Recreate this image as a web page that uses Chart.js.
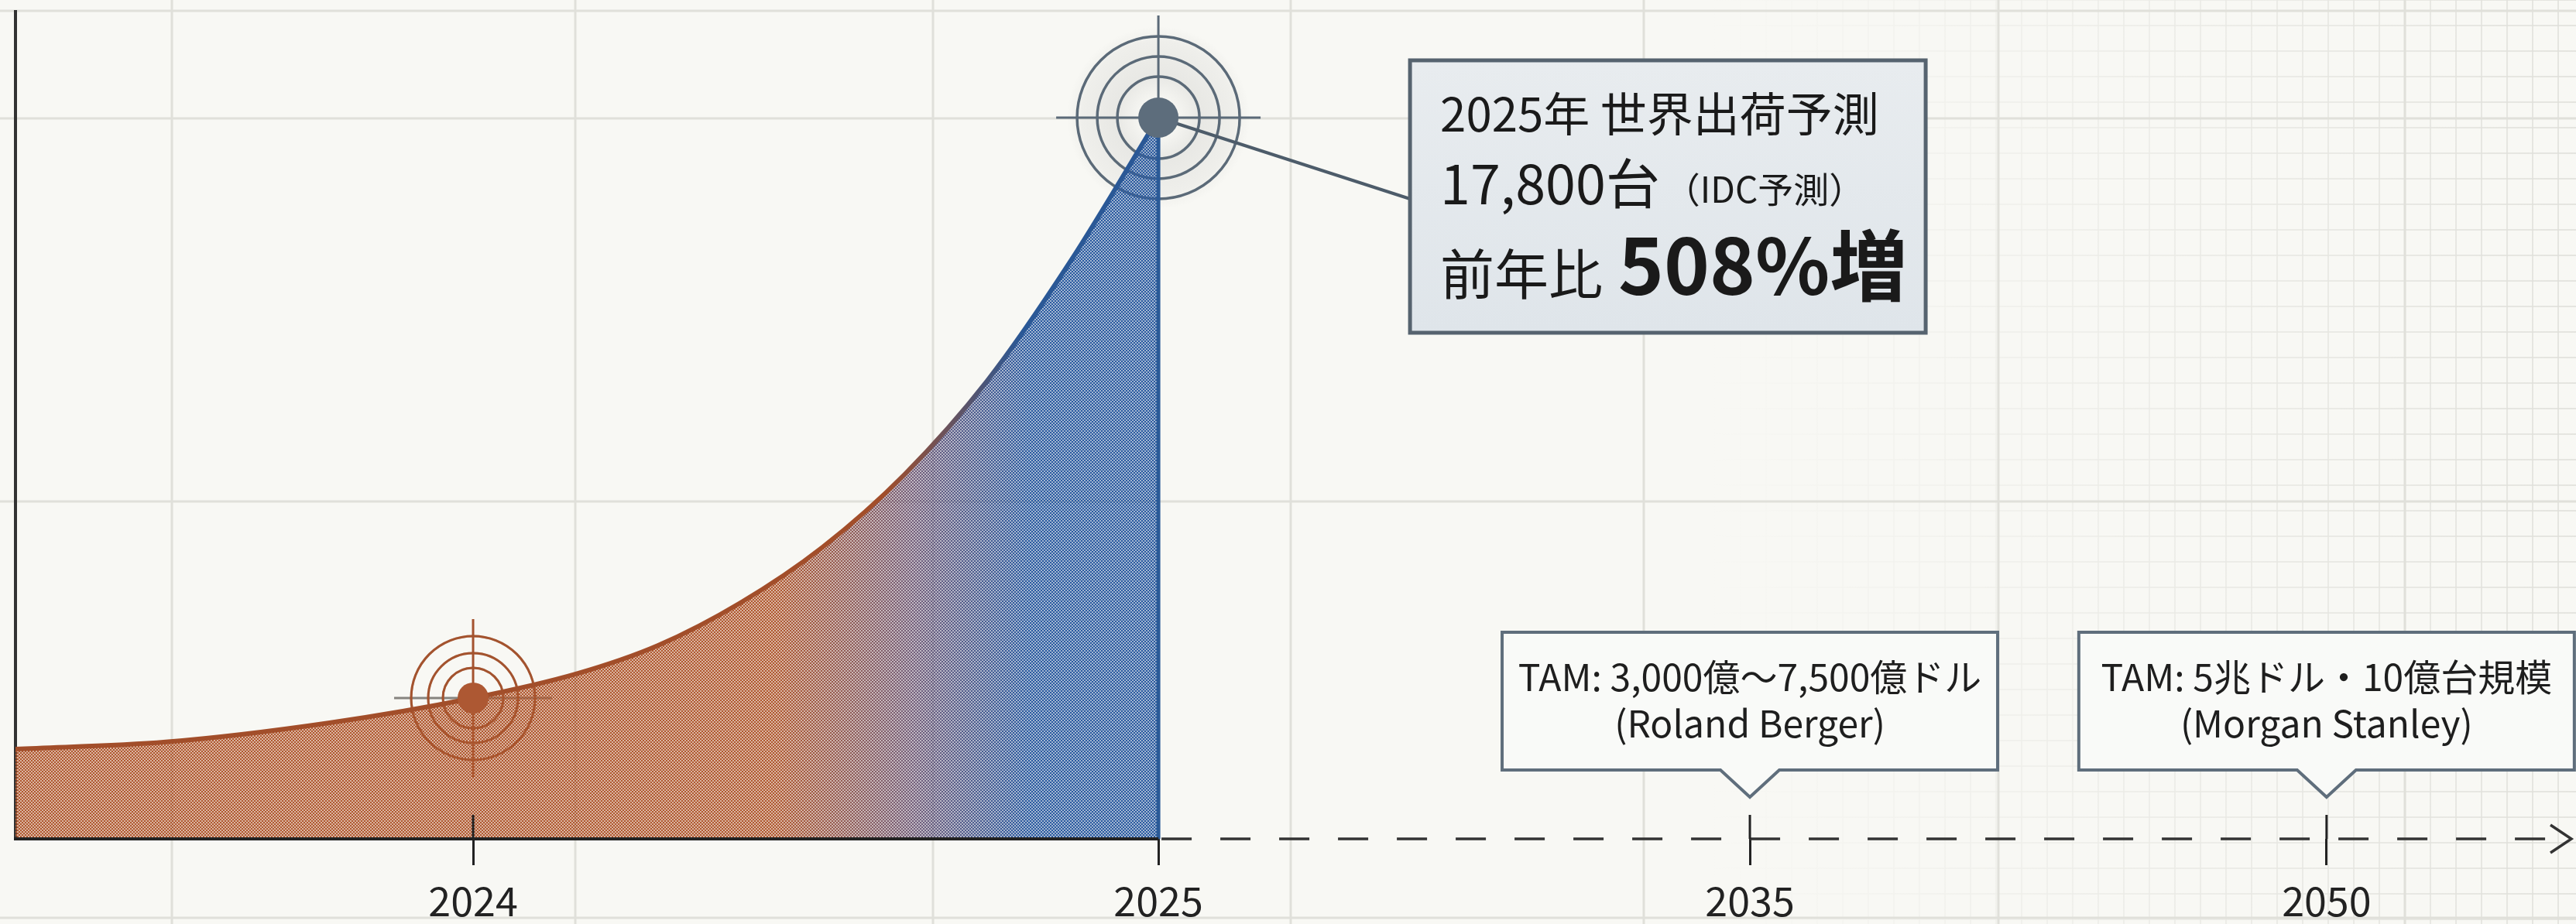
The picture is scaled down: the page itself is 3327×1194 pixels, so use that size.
<!DOCTYPE html>
<html>
<head>
<meta charset="utf-8">
<script src="https://cdn.jsdelivr.net/npm/chart.js@4.4.1/dist/chart.umd.min.js"></script>
<style>
  html, body { margin: 0; padding: 0; background: #f8f8f4; }
  #wrap { width: 3327px; height: 1194px; }
</style>
</head>
<body>
<div id="wrap"><canvas id="c"></canvas></div>
<script>
// Data
var years = [2023.33, 2023.55, 2023.79, 2024, 2024.15, 2024.27, 2024.39, 2024.51, 2024.63, 2024.75, 2024.87, 2025];
var shipments = [2215, 2390, 2865, 3476, 4070, 4775, 5825, 7200, 9000, 11300, 14210, 17800];
var tickYears = [2024, 2025, 2035, 2050];
var tickLabels = ["2024", "2025", "2035", "2050"];
var markedYears = [2024, 2025];
var tamYears = [2035, 2050];
var tamLines = [
  ["TAM: 3,000億〜7,500億ドル", "(Roland Berger)"],
  ["TAM: 5兆ドル・10億台規模", "(Morgan Stanley)"]
];
// broken time axis: where each break year sits along the axis (0..1)
var axisBreaks = [2023.33, 2024, 2025, 2035, 2050, 2056.3];
var axisShare = [0, 0.1791, 0.4473, 0.6788, 0.9045, 1];

var FONT = '"Noto Sans CJK JP", "Noto Sans", sans-serif';
function font(size, weight) { return (weight || 400) + " " + size + "px " + FONT; }

// piecewise linear scale for the compressed future part of the axis
class BrokenScale extends Chart.LinearScale {
  static id = "broken";
  buildTicks() { return this.options.tickValues.map(function (v) { return { value: v }; }); }
  getPixelForValue(v) {
    if (v === null || v === undefined) return NaN;
    var k = this.options.breaks, s = this.options.share, i = 1;
    while (i < k.length - 1 && v > k[i]) i++;
    var d = s[i - 1] + (v - k[i - 1]) / (k[i] - k[i - 1]) * (s[i] - s[i - 1]);
    return this.getPixelForDecimal(d);
  }
  getValueForPixel(p) {
    var d = this.getDecimalForPixel(p), k = this.options.breaks, s = this.options.share, i = 1;
    while (i < s.length - 1 && d > s[i]) i++;
    return k[i - 1] + (d - s[i - 1]) / (s[i] - s[i - 1]) * (k[i] - k[i - 1]);
  }
}
Chart.register(BrokenScale);

var fillCache = null;
function areaFill(chart) {
  if (!chart.chartArea) return "rgba(180,96,58,0.6)";
  if (fillCache && fillCache.w === chart.width) return fillCache.p;
  var off = document.createElement("canvas");
  off.width = chart.width; off.height = chart.height;
  var g = off.getContext("2d");
  var grad = g.createLinearGradient(1000, 0, 1330, 0);
  grad.addColorStop(0, "#b0582f");
  grad.addColorStop(0.55, "#735f7c");
  grad.addColorStop(1, "#2a5aa0");
  g.fillStyle = grad;
  g.fillRect(0, 0, off.width, off.height);
  // halftone checker: punch half the cells to let the paper show
  var tile = document.createElement("canvas");
  tile.width = tile.height = 4;
  var t = tile.getContext("2d");
  t.fillStyle = "#000";
  t.fillRect(0, 0, 2, 2);
  t.fillRect(2, 2, 2, 2);
  g.globalCompositeOperation = "destination-out";
  g.globalAlpha = 0.58;
  g.fillStyle = g.createPattern(tile, "repeat");
  g.fillRect(0, 0, off.width, off.height);
  fillCache = { w: chart.width, p: chart.ctx.createPattern(off, "no-repeat") };
  return fillCache.p;
}

function lineGrad(chart) {
  if (!chart.chartArea) return "#a4502c";
  var gr = chart.ctx.createLinearGradient(1140, 0, 1320, 0);
  gr.addColorStop(0, "#a24e2a");
  gr.addColorStop(1, "#2a5896");
  return gr;
}

var paper = {
  id: "paper",
  beforeDraw: function (chart) {
    var ctx = chart.ctx, W = chart.width, H = chart.height;
    ctx.save();
    ctx.fillStyle = "#f8f8f4";
    ctx.fillRect(0, 0, W, H);
    var fade = ctx.createLinearGradient(2200, 0, W, 0);
    fade.addColorStop(0, "rgba(140,140,130,0)");
    fade.addColorStop(1, "rgba(140,140,130,0.24)");
    ctx.strokeStyle = fade;
    ctx.lineWidth = 1.5;
    ctx.beginPath();
    for (var x = 4; x < W; x += 33) { if (x < 2200) continue; ctx.moveTo(x, 0); ctx.lineTo(x, H); }
    for (var y = 0; y < H; y += 33) { ctx.moveTo(2200, y); ctx.lineTo(W, y); }
    ctx.stroke();
    ctx.strokeStyle = "#e0e0da";
    ctx.lineWidth = 3;
    ctx.beginPath();
    [222, 743, 1205, 1667, 2123, 2581, 3106].forEach(function (v) { ctx.moveTo(v, 0); ctx.lineTo(v, H); });
    [14, 153, 648, 1186].forEach(function (v) { ctx.moveTo(0, v); ctx.lineTo(W, v); });
    ctx.stroke();
    ctx.restore();
  }
};

var targetStyle = {
  2024: { rings: [39, 58, 80], ringW: 3, ring: "#a4532f", dot: "#ad5833", r: 20, arm: 102, h: "#86847f", v: "#a4532f", halo: false, ghost: 0.35 },
  2025: { rings: [53, 79, 105], ringW: 3.5, ring: "#5b6a78", dot: "#5d6d7c", r: 26, arm: 132, h: "#5b6a78", v: "#5b6a78", halo: true, ghost: 0 }
};

function pointAt(chart, yr) {
  var i = years.indexOf(yr);
  return { x: chart.scales.x.getPixelForValue(yr), y: chart.scales.y.getPixelForValue(shipments[i]) };
}

function rings(ctx, p, st) {
  ctx.strokeStyle = st.ring;
  ctx.lineWidth = st.ringW;
  st.rings.forEach(function (r) { ctx.beginPath(); ctx.arc(p.x, p.y, r, 0, Math.PI * 2); ctx.stroke(); });
}

var targets = {
  id: "targets",
  beforeDatasetsDraw: function (chart) {
    var ctx = chart.ctx;
    markedYears.forEach(function (yr) {
      var p = pointAt(chart, yr), st = targetStyle[yr];
      ctx.save();
      if (st.halo) {
        var rg = ctx.createRadialGradient(p.x, p.y, 20, p.x, p.y, 118);
        rg.addColorStop(0, "rgba(90,90,90,0)");
        rg.addColorStop(0.35, "rgba(90,90,90,0.1)");
        rg.addColorStop(0.8, "rgba(90,90,90,0.06)");
        rg.addColorStop(1, "rgba(90,90,90,0)");
        ctx.fillStyle = rg;
        ctx.beginPath(); ctx.arc(p.x, p.y, 118, 0, Math.PI * 2); ctx.fill();
      }
      ctx.lineWidth = 3;
      ctx.strokeStyle = st.h;
      ctx.beginPath(); ctx.moveTo(p.x - st.arm, p.y); ctx.lineTo(p.x + st.arm, p.y); ctx.stroke();
      ctx.strokeStyle = st.v;
      ctx.beginPath(); ctx.moveTo(p.x, p.y - st.arm); ctx.lineTo(p.x, p.y + st.arm); ctx.stroke();
      rings(ctx, p, st);
      ctx.restore();
    });
  },
  afterDatasetsDraw: function (chart) {
    var ctx = chart.ctx, xs = chart.scales.x, ys = chart.scales.y, a = chart.chartArea;
    var ay = ys.getPixelForValue(0), x25 = xs.getPixelForValue(2025);
    ctx.save();
    // rings showing faintly through the halftone fill
    markedYears.forEach(function (yr) {
      var st = targetStyle[yr];
      if (!st.ghost) return;
      ctx.save();
      ctx.globalAlpha = st.ghost;
      rings(ctx, pointAt(chart, yr), st);
      ctx.restore();
    });
    // time axis: solid to 2025, dashed into the future, open arrow
    ctx.strokeStyle = "#222";
    ctx.lineWidth = 4;
    ctx.beginPath(); ctx.moveTo(a.left - 2, ay); ctx.lineTo(x25, ay); ctx.stroke();
    ctx.lineWidth = 3.5;
    ctx.strokeStyle = "#333";
    ctx.setLineDash([39, 37]);
    ctx.beginPath(); ctx.moveTo(x25 + 4, ay); ctx.lineTo(a.right - 4, ay); ctx.stroke();
    ctx.setLineDash([]);
    ctx.beginPath();
    ctx.moveTo(a.right - 26, ay - 18); ctx.lineTo(a.right + 1, ay); ctx.lineTo(a.right - 26, ay + 18);
    ctx.stroke();
    // upper half of the tick crosses
    ctx.lineWidth = 3;
    ctx.strokeStyle = "#222";
    tickYears.forEach(function (yr) {
      if (yr === 2025) return;
      var x = xs.getPixelForValue(yr);
      ctx.beginPath(); ctx.moveTo(x, ay - 31); ctx.lineTo(x, ay); ctx.stroke();
    });
    // callout connector
    var p25 = pointAt(chart, 2025);
    var bx = p25.x + 325, by = p25.y - 74, bw = 666, bh = 352;
    ctx.strokeStyle = "#4d5c6a";
    ctx.lineWidth = 4;
    ctx.beginPath(); ctx.moveTo(p25.x, p25.y); ctx.lineTo(bx, p25.y + 105); ctx.stroke();
    // dots
    markedYears.forEach(function (yr) {
      var p = pointAt(chart, yr), st = targetStyle[yr];
      ctx.fillStyle = st.dot;
      ctx.beginPath(); ctx.arc(p.x, p.y, st.r, 0, Math.PI * 2); ctx.fill();
    });
    // callout box
    var bg = ctx.createLinearGradient(0, by, 0, by + bh);
    bg.addColorStop(0, "#e8ecef");
    bg.addColorStop(1, "#dfe5ea");
    ctx.fillStyle = bg;
    ctx.fillRect(bx, by, bw, bh);
    ctx.strokeStyle = "#56636f";
    ctx.lineWidth = 5;
    ctx.strokeRect(bx, by, bw, bh);
    ctx.fillStyle = "#1a1a1a";
    ctx.textAlign = "left";
    ctx.textBaseline = "alphabetic";
    var tx = bx + 39;
    ctx.font = font(60);
    ctx.fillText("2025年 世界出荷予測", tx, by + 92);
    ctx.font = font(70);
    var s2 = "17,800台";
    ctx.fillText(s2, tx, by + 186);
    var w2 = ctx.measureText(s2).width;
    ctx.font = font(46);
    ctx.fillText("（IDC予測）", tx + w2 + 6, by + 184);
    ctx.font = font(70);
    var s3 = "前年比";
    ctx.fillText(s3, tx, by + 303);
    var w3 = ctx.measureText(s3).width;
    ctx.font = font(100, 700);
    ctx.fillText("508%増", tx + w3 + 20, by + 303);
    // TAM boxes
    tamYears.forEach(function (yr, i) {
      var cx = xs.getPixelForValue(yr), w = 640, top = ay - 267, bot = ay - 89, tip = ay - 54, hw = 38;
      ctx.beginPath();
      ctx.moveTo(cx - w / 2, top); ctx.lineTo(cx + w / 2, top); ctx.lineTo(cx + w / 2, bot);
      ctx.lineTo(cx + hw, bot); ctx.lineTo(cx, tip); ctx.lineTo(cx - hw, bot); ctx.lineTo(cx - w / 2, bot);
      ctx.closePath();
      ctx.fillStyle = "#f9faf8";
      ctx.fill();
      ctx.strokeStyle = "#5f6e7c";
      ctx.lineWidth = 4;
      ctx.stroke();
      ctx.fillStyle = "#1e1e1e";
      ctx.textAlign = "center";
      ctx.font = font(48);
      ctx.fillText(tamLines[i][0], cx, ay - 191);
      ctx.fillText(tamLines[i][1], cx, ay - 131);
    });
    ctx.restore();
  }
};

new Chart(document.getElementById("c"), {
  type: "line",
  data: {
    datasets: [
      {
        data: years.map(function (x, i) { return { x: x, y: shipments[i] }; }),
        borderColor: function (c) { return lineGrad(c.chart); },
        backgroundColor: function (c) { return areaFill(c.chart); },
        fill: "origin",
        borderWidth: 6,
        pointRadius: 0,
        cubicInterpolationMode: "monotone",
        order: 2
      },
      {
        data: [{ x: 2025, y: shipments[shipments.length - 1] }, { x: 2025, y: 0 }],
        borderColor: "#2b5a97",
        borderWidth: 5,
        pointRadius: 0,
        fill: false,
        order: 1
      }
    ]
  },
  options: {
    responsive: true,
    maintainAspectRatio: false,
    animation: false,
    devicePixelRatio: 1,
    layout: { padding: { left: 20, right: 7, top: 15, bottom: 0 } },
    plugins: { legend: { display: false }, tooltip: { enabled: false } },
    scales: {
      x: {
        type: "broken",
        min: axisBreaks[0],
        max: axisBreaks[axisBreaks.length - 1],
        breaks: axisBreaks,
        share: axisShare,
        tickValues: tickYears,
        border: { display: false },
        grid: { drawOnChartArea: false, drawTicks: true, tickLength: 34, tickWidth: 3, tickColor: "#222" },
        ticks: {
          autoSkip: false, maxRotation: 0, padding: 15, color: "#222",
          font: { family: FONT, size: 52 },
          callback: function (v, i) { return tickLabels[i]; }
        },
        afterFit: function (s) { s.height = 110; }
      },
      y: {
        min: 0,
        max: 20416,
        ticks: { display: false },
        grid: { display: false, drawTicks: false },
        border: { display: true, color: "#333", width: 4 }
      }
    }
  },
  plugins: [paper, targets]
});
</script>
</body>
</html>
